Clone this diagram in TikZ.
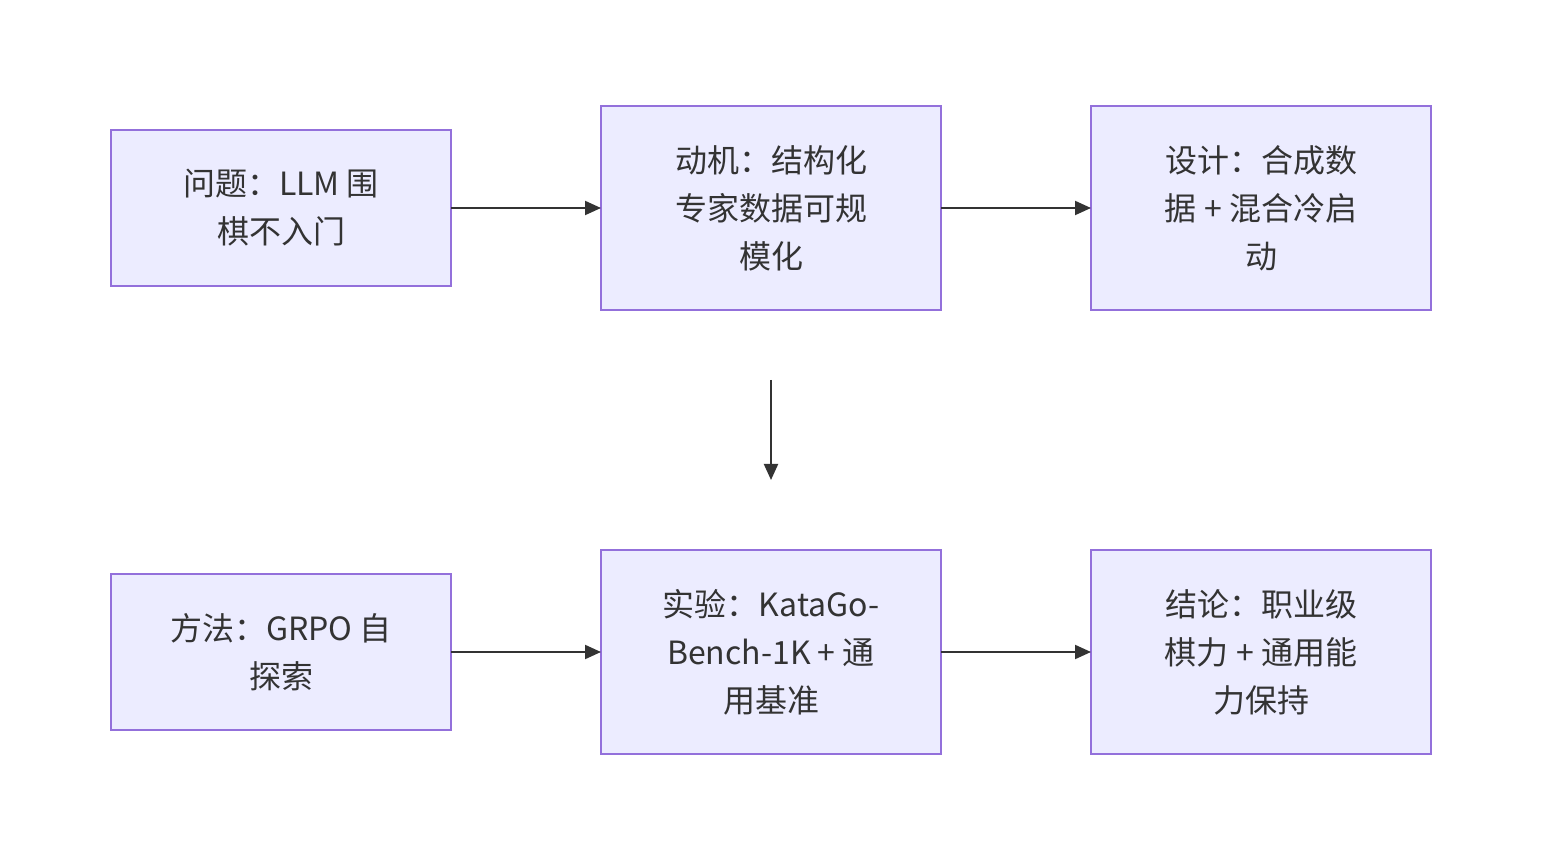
\documentclass[tikz,border=0pt]{standalone}
\usepackage{fontspec}
\setmainfont{Noto Sans CJK SC}
\usetikzlibrary{
  arrows.meta,
  positioning,  % right=of, below=of
}
\definecolor{boxfill}{HTML}{ECECFF}
\definecolor{boxline}{HTML}{9370DB}
\definecolor{ink}{HTML}{333333}
\def\myhdist{75pt}
\def\myvdist{120pt}
\def\mygap{35pt}
\tikzset{
  font=\fontsize{16pt}{24pt}\selectfont,
  my box/.style={
    draw=boxline,
    fill=boxfill,
    line width=0.75pt,
    text=ink,
    align=center,
    minimum width=170pt,
    minimum height=78pt,
    inner sep=0pt,
    outer sep=0pt,
    rectangle
  },
  my box high/.style={
    my box,
    minimum height=102pt
  },
  flow/.style={
    draw=ink,
    line width=1pt,
    -{Triangle[length=8pt,width=7pt]}
  },
  chart/.style={
    node distance=\myhdist
  }
}
\begin{document}
\begin{tikzpicture}[chart]
\useasboundingbox (0,0) rectangle (771pt,-430pt);
\node[my box]      (problem)  at (140.5pt,-104pt) {问题：LLM 围\\棋不入门};
\node[my box high] (motive)   [right=of problem]  {动机：结构化\\专家数据可规\\模化};
\node[my box high] (design)   [right=of motive]   {设计：合成数\\据 + 混合冷启\\动};
\node[my box high] (exper)    [below=\myvdist of motive] {实验：KataGo-\\Bench-1K + 通\\用基准};
\node[my box]      (method)   [left=of exper]     {方法：GRPO 自\\探索};
\node[my box high] (result)   [right=of exper]    {结论：职业级\\棋力 + 通用能\\力保持};
\coordinate (gap top) at ([yshift=-\mygap]motive.south);
\coordinate (gap bot) at ([yshift=\mygap]exper.north);
\path[flow] (problem) -- (motive);
\path[flow] (motive)  -- (design);
\path[flow] (gap top) -- (gap bot);
\path[flow] (method)  -- (exper);
\path[flow] (exper)   -- (result);
\end{tikzpicture}
\end{document}
